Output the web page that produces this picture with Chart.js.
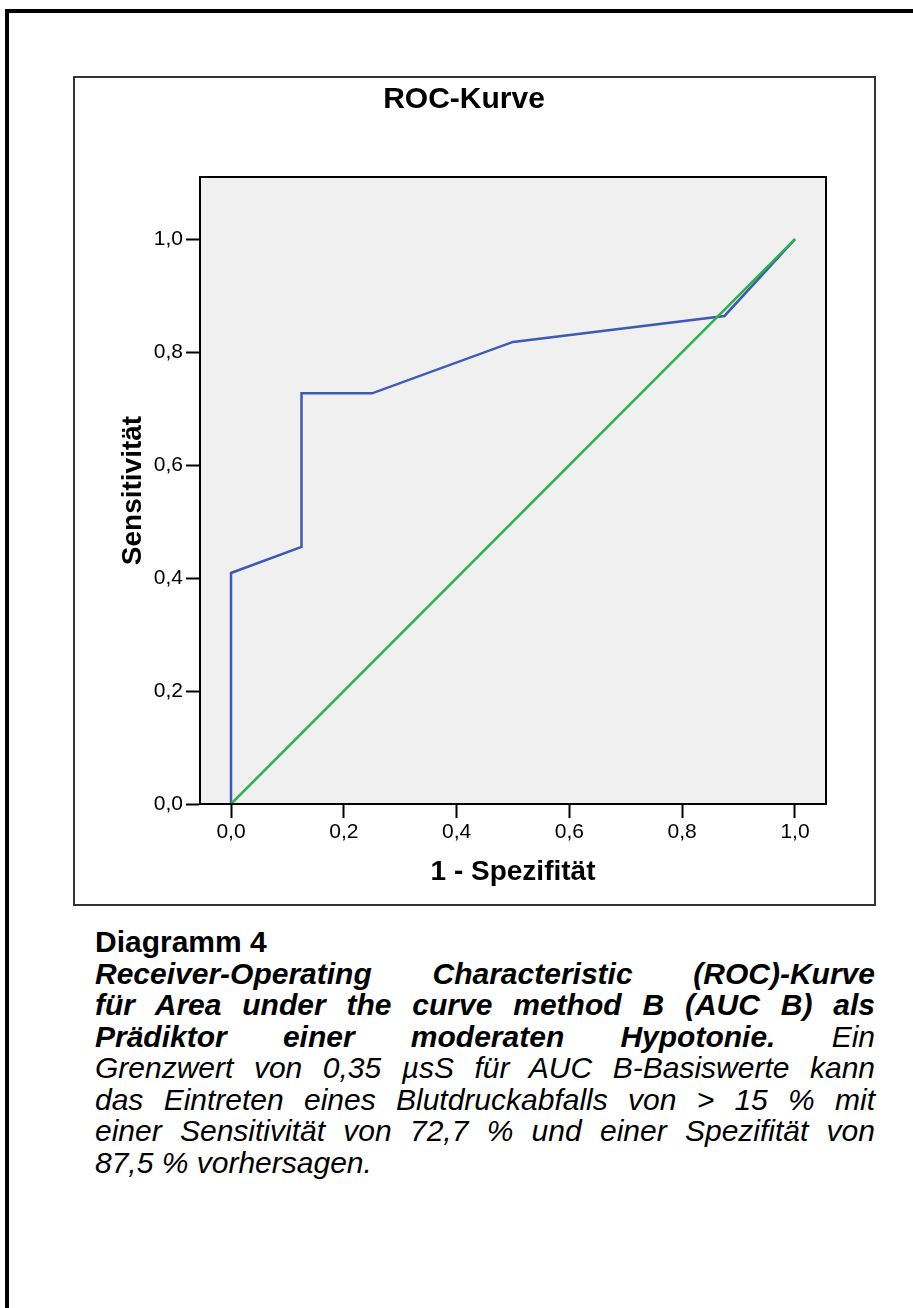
<!DOCTYPE html>
<html lang="de">
<head>
<meta charset="utf-8">
<title>ROC-Kurve</title>
<script src="https://cdn.jsdelivr.net/npm/chart.js@4.4.1/dist/chart.umd.min.js"></script>
<style>
	html, body { margin: 0; padding: 0; background: #fff; overflow: hidden; }
	body { width: 913px; height: 1308px; position: relative; font-family: "Liberation Sans", Arial, sans-serif; color: #000; }
	#page { position: absolute; left: 5px; top: 9px; width: 1000px; height: 1400px; border: 4px solid #000; }
	#chartBox { position: absolute; left: 73px; top: 76px; width: 799px; height: 826px; border: 2px solid #333; background: #fff; }
	#chartBox canvas { display: block; }
	#caption { position: absolute; left: 95px; top: 926px; width: 780px; font-size: 30px; line-height: 31.5px; }
	#caption .line { text-align: justify; text-align-last: justify; font-style: italic; white-space: normal; }
	#caption .head { font-weight: bold; font-style: normal; text-align-last: left; }
	#caption .last { text-align-last: left; }
</style>
</head>
<body>
<div id="page"></div>
<div id="chartBox">
	<canvas id="rocChart" width="799" height="826"></canvas>
</div>
<div id="caption">
	<div class="line head">Diagramm 4</div>
	<div class="line"><b>Receiver-Operating Characteristic (ROC)-Kurve</b></div>
	<div class="line"><b>für Area under the curve method B (AUC B) als</b></div>
	<div class="line"><b>Prädiktor einer moderaten Hypotonie.</b> Ein</div>
	<div class="line">Grenzwert von 0,35 µsS für AUC B-Basiswerte kann</div>
	<div class="line">das Eintreten eines Blutdruckabfalls von &gt; 15 % mit</div>
	<div class="line">einer Sensitivität von 72,7 % und einer Spezifität von</div>
	<div class="line last">87,5 % vorhersagen.</div>
</div>
<script>
// ROC-Kurve: 1 - Spezifität gegen Sensitivität
const rocX = [0, 0, 0.125, 0.125, 0.25, 0.5, 0.875, 1];
const rocY = [0, 0.409, 0.455, 0.727, 0.727, 0.818, 0.864, 1];
// Bezugslinie (Diagonale)
const refX = [0, 1];
const refY = [0, 1];
const xTicks = [0, 0.2, 0.4, 0.6, 0.8, 1.0];
const yTicks = [0, 0.2, 0.4, 0.6, 0.8, 1.0];

const toPoints = (xs, ys) => xs.map((x, i) => ({ x: x, y: ys[i] }));
const komma = (v) => Number(v).toFixed(1).replace(".", ",");

Chart.defaults.font.family = "'Liberation Sans', Arial, sans-serif";
Chart.defaults.color = "#000";

const plotFrame = {
	id: "plotFrame",
	beforeDraw: (chart) => {
		const { ctx, chartArea: a } = chart;
		ctx.save();
		ctx.fillStyle = "#f0f0f0";
		ctx.fillRect(a.left, a.top, a.right - a.left, a.bottom - a.top);
		ctx.restore();
	},
	afterDraw: (chart) => {
		const { ctx, chartArea: a } = chart;
		ctx.save();
		ctx.strokeStyle = "#000";
		ctx.lineWidth = 2;
		ctx.strokeRect(a.left, a.top, a.right - a.left, a.bottom - a.top);
		ctx.restore();
	},
};

const axisGrid = {
	display: true,
	drawOnChartArea: false,
	drawTicks: true,
	tickLength: 14,
	color: "#000",
	tickWidth: 2,
};

new Chart(document.getElementById("rocChart"), {
	type: "line",
	data: {
		datasets: [
			{
				label: "Bezugslinie",
				data: toPoints(refX, refY),
				borderColor: "#2bb24a",
				borderWidth: 2.5,
				pointRadius: 0,
				order: 0,
			},
			{
				label: "ROC",
				data: toPoints(rocX, rocY),
				borderColor: "#3d5ab4",
				borderWidth: 2.5,
				pointRadius: 0,
				order: 1,
			},
		],
	},
	options: {
		responsive: false,
		animation: false,
		events: [],
		layout: { padding: { left: 27, right: 48, top: 0, bottom: 0 } },
		plugins: {
			legend: { display: false },
			tooltip: { enabled: false },
			title: {
				display: true,
				text: "ROC-Kurve",
				font: { size: 30, weight: "bold" },
				color: "#000",
				padding: { top: 4, bottom: 59 },
			},
		},
		scales: {
			x: {
				type: "linear",
				min: -0.055,
				max: 1.055,
				afterBuildTicks: (scale) => {
					scale.ticks = xTicks.map((v) => ({ value: v }));
				},
				afterFit: (scale) => {
					scale.height = 100;
				},
				ticks: { callback: komma, font: { size: 21 }, padding: 2, maxRotation: 0 },
				grid: axisGrid,
				border: { display: true, color: "#000", width: 2 },
				title: {
					display: true,
					text: "1 - Spezifität",
					font: { size: 28, weight: "bold" },
					padding: 15,
				},
			},
			y: {
				type: "linear",
				min: 0,
				max: 1.11,
				afterBuildTicks: (scale) => {
					scale.ticks = yTicks.map((v) => ({ value: v }));
				},
				afterFit: (scale) => {
					scale.width = 98;
				},
				ticks: { callback: komma, font: { size: 21 }, padding: 3 },
				grid: axisGrid,
				border: { display: true, color: "#000", width: 2 },
				title: {
					display: true,
					text: "Sensitivität",
					font: { size: 28, weight: "bold" },
					padding: 14,
				},
			},
		},
	},
	plugins: [plotFrame],
});
</script>
</body>
</html>
